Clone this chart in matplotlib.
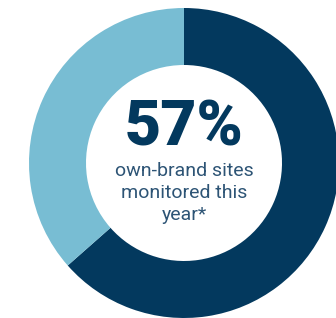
import matplotlib.pyplot as plt

# Donut share
labels = ['Monitored', 'Other']
shares = [63.5, 36.5]
colors = ['#03395E', '#78BDD3']
headline = '57%'
caption = 'own-brand sites\nmonitored this\nyear*'

fig = plt.figure(figsize=(3.36, 3.18), dpi=100)
ax = fig.add_axes([0, 0, 1, 1])

ax.pie(shares, colors=colors, radius=155, center=(184, 155),
       startangle=90, counterclock=False,
       wedgeprops=dict(width=57, linewidth=0))

ax.text(184, 189, headline, ha='center', va='center',
        fontsize=45, fontweight='black', family='Roboto', color='#03395E')
ax.text(184, 125, caption, ha='center', va='center',
        fontsize=14, family='Roboto', color='#2D5475', linespacing=1.28)

ax.set_xlim(0, 336)
ax.set_ylim(0, 318)
ax.set_aspect('equal')
ax.axis('off')

fig.savefig('out.png', dpi=100)
